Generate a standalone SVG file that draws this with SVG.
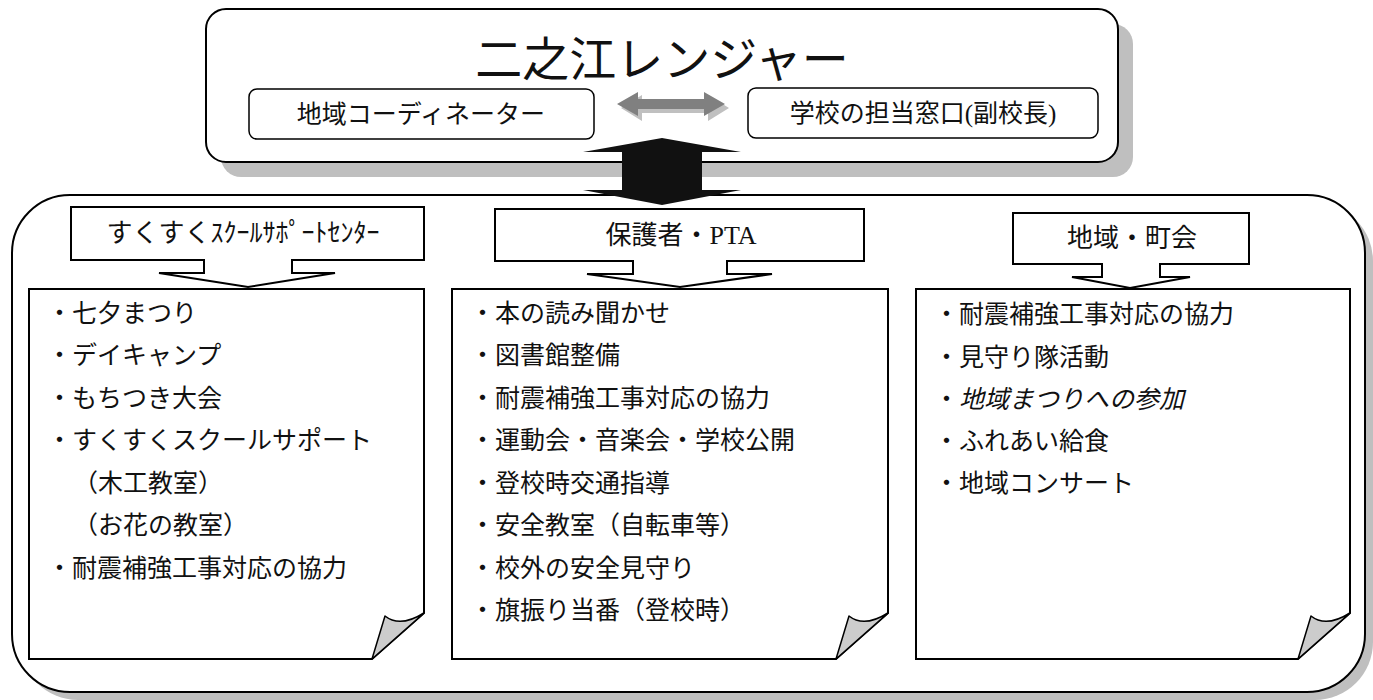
<svg xmlns="http://www.w3.org/2000/svg" width="1373" height="700" viewBox="0 0 1373 700">
<defs>
<style>
.t{font-family:"Liberation Serif","Noto Sans CJK JP",serif;fill:#111;dominant-baseline:central}
.s{fill:#bfbfbf;stroke:none}
.box{fill:#fff;stroke:#000;stroke-width:2}
.in{fill:#fff;stroke:#000;stroke-width:1.5}
.curl{fill:#cccccc;stroke:#000;stroke-width:1.5;stroke-linejoin:round}
.item{font-size:25px}
</style>
</defs>
<rect width="1373" height="700" fill="#fff"/>

<g id="top-panel">
<rect class="s" x="221" y="24" width="912" height="153" rx="20"/>
<rect class="box" x="206" y="9" width="912" height="153" rx="20"/>
<text class="t" x="662" y="60" font-size="47" text-anchor="middle">二之江レンジャー</text>
</g>

<g id="coordinator">
<rect class="in" x="249" y="89" width="345" height="50" rx="8"/>
<text class="t" x="421" y="114" font-size="25" text-anchor="middle">地域コーディネーター</text>
</g>

<g id="school-contact">
<rect class="in" x="748" y="88" width="350" height="50" rx="8"/>
<text class="t" x="923" y="113" font-size="25" text-anchor="middle">学校の担当窓口(副校長)</text>
</g>

<g id="bottom-panel">
<rect class="s" x="20" y="203" width="1353" height="497" rx="58"/>
<rect class="box" x="12" y="195" width="1353" height="497" rx="58"/>
</g>

<g id="connectors">
<path d="M621,108 L642,95 V103 H708 V95 L729,108 L708,121 V113 H642 V121 Z" fill="#c0c0c0"/>
<path d="M617,104 L638,92 V99 H704 V92 L725,104 L704,116 V109 H638 V116 Z" fill="#808080"/>
<path d="M662,138 L741,152 H702 V190 H741 L662,205 L583,190 H622 V152 H583 Z" fill="#111"/>
</g>

<g id="header-sukusuku">
<path class="box" d="M71,207 H424 V260 H292 V273 H335 L248,287 L159,273 H204 V260 H71 Z"/>
<text class="t" x="243" y="233" font-size="26" text-anchor="middle">すくすくｽｸｰﾙｻﾎﾟｰﾄｾﾝﾀｰ</text>
</g>

<g id="header-pta">
<path class="box" d="M495,209 H864 V261 H727 V274 H772 L680,287 L587,274 H633 V261 H495 Z"/>
<text class="t" x="681" y="235" font-size="26" text-anchor="middle">保護者・PTA</text>
</g>

<g id="header-community">
<path class="box" d="M1013,213 H1249 V264 H1160 V277 H1190 L1130,288 L1072,277 H1102 V264 H1013 Z"/>
<text class="t" x="1132" y="238" font-size="26" text-anchor="middle">地域・町会</text>
</g>

<g id="list-sukusuku">
<path class="box" d="M29,289 H424 V613 L372,659 H29 Z"/>
<path class="curl" d="M372,659 L385,616 Q400,628 424,613 Z"/>
<g class="t item">
<text x="47" y="313">・七夕まつり</text>
<text x="47" y="355.5">・デイキャンプ</text>
<text x="47" y="398">・もちつき大会</text>
<text x="47" y="440.5">・すくすくスクールサポート</text>
<text x="73" y="483">（木工教室）</text>
<text x="73" y="525.5">（お花の教室）</text>
<text x="47" y="568">・耐震補強工事対応の協力</text>
</g>
</g>

<g id="list-pta">
<path class="box" d="M452,289 H888 V613 L836,659 H452 Z"/>
<path class="curl" d="M836,659 L849,616 Q864,628 888,613 Z"/>
<g class="t item">
<text x="470" y="313">・本の読み聞かせ</text>
<text x="470" y="355.5">・図書館整備</text>
<text x="470" y="398">・耐震補強工事対応の協力</text>
<text x="470" y="440.5">・運動会・音楽会・学校公開</text>
<text x="470" y="483">・登校時交通指導</text>
<text x="470" y="525.5">・安全教室（自転車等）</text>
<text x="470" y="568">・校外の安全見守り</text>
<text x="470" y="610.5">・旗振り当番（登校時）</text>
</g>
</g>

<g id="list-community">
<path class="box" d="M916,289 H1350 V613 L1298,659 H916 Z"/>
<path class="curl" d="M1298,659 L1311,616 Q1326,628 1350,613 Z"/>
<g class="t item">
<text x="934" y="314">・耐震補強工事対応の協力</text>
<text x="934" y="357">・見守り隊活動</text>
<text x="934" y="399">・<tspan font-style="italic">地域まつりへの参加</tspan></text>
<text x="934" y="441">・ふれあい給食</text>
<text x="934" y="483">・地域コンサート</text>
</g>
</g>
</svg>
